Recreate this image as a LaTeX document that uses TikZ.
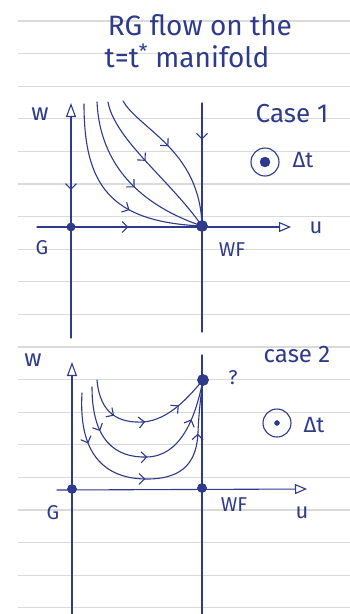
\documentclass[tikz,border=0pt]{standalone}
\usepackage{fontspec}
\setmainfont{Fira Sans}
\usetikzlibrary{arrows.meta,decorations.markings}
\definecolor{RGInk}{HTML}{2E3A8C}
\definecolor{RGRule}{HTML}{DADADA}
\tikzset{
  rule/.style={RGRule,line width=1.2pt},
  ink/.style={draw=RGInk,line width=1.1pt,line cap=round},
  waxis/.style={ink,{Triangle[open,length=14pt,width=10pt]}-},
  uaxis/.style={ink,-{Triangle[open,length=12pt,width=10pt]}},
  flowmark/.style={postaction={decorate,decoration={markings,
      mark=at position #1 with {\arrow[RGInk,line width=1.1pt]{Straight Barb[length=5.5pt,width=11pt]}}}}},
  fixpt/.style={circle,fill=RGInk,draw=RGInk,inner sep=0pt,minimum size=#1},
  fixpt/.default=8pt,
  ring/.style={circle,draw=RGInk,line width=1.1pt,inner sep=0pt,minimum size=#1},
  hand/.style={text=RGInk,inner sep=0pt,font=\fontsize{#1}{#1}\selectfont},
  hand/.default=20,
}
\begin{document}
\begin{tikzpicture}[x=1pt,y=-1pt]
  \useasboundingbox[fill=white] (0,0) rectangle (350,614);
  % ruled paper
  \foreach \i in {0,...,18}
    \draw[rule] (18,{21+32.6*\i}) -- (350,{21+32.6*\i});

  % title
  \node[hand=28] (title1) at (200,25) {RG flow on the};
  \node[hand=28] (title2) at (187,56) {t=t\textsuperscript{*} manifold};

  % ---- case 1 ----
  \coordinate (wtop1) at (71,103);
  \coordinate (wbot1) at (71,338);
  \coordinate (uleft1) at (37,227);
  \coordinate (uright1) at (291,227);
  \coordinate (vtop1) at (202,103);
  \coordinate (vbot1) at (202,332);
  \coordinate (sa) at (84,104);
  \coordinate (sb) at (97,102);
  \coordinate (sc) at (108,102);
  \coordinate (sd) at (123,101);
  \node[fixpt=8pt] (g1) at (71,227) {};
  \node[fixpt=11pt] (wf1) at (202,226) {};

  \draw[waxis,flowmark=0.37] (wtop1) -- (wbot1);
  \draw[uaxis,flowmark=0.36] (uleft1) -- (uright1);
  \draw[ink,flowmark=0.16] (vtop1) -- (vbot1);
  \draw[ink,flowmark=0.62] (sa) .. controls (84,185) and (110,222) .. (wf1.center);
  \draw[ink,flowmark=0.55] (sb) .. controls (100,165) and (140,205) .. (wf1.center);
  \draw[ink,flowmark=0.45] (sc) .. controls (115,140) and (170,180) .. (wf1.center);
  \draw[ink,flowmark=0.42] (sd) .. controls (140,130) and (200,150) .. (wf1.center);
  \node[fixpt=8pt] at (g1) {};
  \node[fixpt=11pt] at (wf1) {};

  \node[hand=24] (lw1) at (40,114) {w};
  \node[hand=20] (lg1) at (42,248) {G};
  \node[hand=20] (lwf1) at (232,250) {WF};
  \node[hand=22] (lu1) at (316,228) {u};
  \node[hand=26] (case1) at (292,114) {Case 1};
  \node[ring=28pt] (ring1) at (265,162) {};
  \node[fixpt=10pt] (core1) at (ring1) {};
  \node[hand=22] (dt1) at (303,160) {Δt};

  % ---- case 2 ----
  \coordinate (wtop2) at (72,362);
  \coordinate (wbot2) at (72,614);
  \coordinate (uleft2) at (57,490);
  \coordinate (uright2) at (307,489);
  \coordinate (vtop2) at (202,355);
  \coordinate (vbot2) at (202,614);
  \coordinate (s1) at (97,380);
  \coordinate (s2) at (92,387);
  \coordinate (s3) at (82,393);
  \node[fixpt=9pt] (g2) at (72,489) {};
  \node[fixpt=9pt] (wf2) at (202,488) {};
  \node[fixpt=11pt] (q) at (203,380) {};

  \draw[waxis] (wtop2) -- (wbot2);
  \draw[uaxis] (uleft2) -- (uright2);
  \draw[ink] (vtop2) -- (vbot2);
  \draw[ink,flowmark=0.28,flowmark=0.5,flowmark=0.76] (s1)
    .. controls (100,415) and (120,423) .. (143,422)
    .. controls (170,420) and (190,395) .. (q.center);
  \draw[ink,flowmark=0.22,flowmark=0.5,flowmark=0.8] (s2)
    .. controls (92,440) and (115,458) .. (147,457)
    .. controls (180,456) and (195,420) .. (q.center);
  \draw[ink,flowmark=0.2,flowmark=0.48,flowmark=0.79] (s3)
    .. controls (78,460) and (110,479) .. (147,479)
    .. controls (185,479) and (197,460) .. (198,432)
    .. controls (199,410) and (201,395) .. (q.center);
  \node[fixpt=9pt] at (g2) {};
  \node[fixpt=9pt] at (wf2) {};
  \node[fixpt=11pt] at (q) {};

  \node[hand=24] (lw2) at (33,360) {w};
  \node[hand=20] (lg2) at (53,513) {G};
  \node[hand=20] (lwf2) at (234,505) {WF};
  \node[hand=22] (lu2) at (302,513) {u};
  \node[hand=24] (case2) at (297,354) {case 2};
  \node[hand=20] (lq) at (233,378) {?};
  \node[ring=28pt] (ring2) at (277,423) {};
  \node[fixpt=5pt] (core2) at (ring2) {};
  \node[hand=22] (dt2) at (314,425) {Δt};
\end{tikzpicture}
\end{document}
